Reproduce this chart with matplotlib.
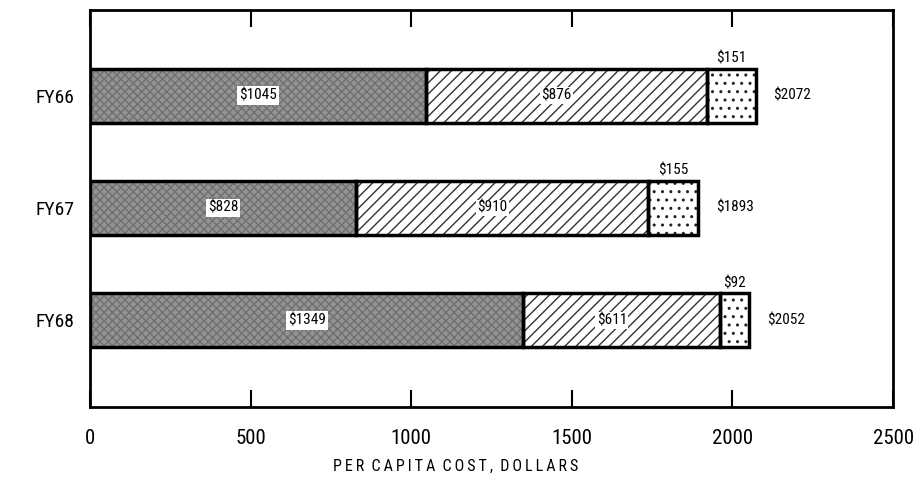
import numpy as np
import matplotlib.pyplot as plt
from matplotlib import font_manager

years = ['FY66', 'FY67', 'FY68']
part_a = [1045, 828, 1349]
part_b = [876, 910, 611]
part_c = [151, 155, 92]
totals = [2072, 1893, 2052]
ticks = [0, 500, 1000, 1500, 2000, 2500]

names = {f.name for f in font_manager.fontManager.ttflist}
narrow = [n for n in ['Liberation Sans Narrow', 'DejaVu Sans Condensed', 'Roboto Condensed'] if n in names]
plt.rcParams['font.family'] = narrow + ['DejaVu Sans']
plt.rcParams['font.stretch'] = 'condensed'
plt.rcParams['hatch.linewidth'] = 1.0

fig = plt.figure(figsize=(9.21, 4.80), dpi=100)
ax = fig.add_axes([0.0977, 0.152, 0.872, 0.827])

y = np.array([2, 1, 0])
h = 0.48
a = np.array(part_a)
b = np.array(part_b)
c = np.array(part_c)

# stippled dark part
ax.barh(y, a, height=h, color='#939393', edgecolor='#707070', hatch='xxxx', linewidth=0)
ax.barh(y, b, left=a, height=h, color='white', edgecolor='#333333', hatch='///', linewidth=0)
ax.barh(y, c, left=a + b, height=h, color='white', edgecolor='#222222', hatch='..', linewidth=0)

# outlines
for left, w in [(0, a), (a, b), (a + b, c)]:
    ax.barh(y, w, left=left, height=h, fill=False, edgecolor='black', linewidth=2.5)

for i in range(3):
    ax.text(a[i] / 2, y[i], '$%d' % a[i], ha='center', va='center', fontsize=11,
            bbox=dict(facecolor='white', edgecolor='none', pad=1.5))
    ax.text(a[i] + b[i] / 2 - 30, y[i], '$%d' % b[i], ha='center', va='center', fontsize=11,
            bbox=dict(facecolor='white', edgecolor='none', pad=1))
    ax.text(a[i] + b[i] + c[i] / 2, y[i] + h / 2 + 0.03, '$%d' % c[i], ha='center', va='bottom',
            fontsize=11)
    ax.text(totals[i] + 55, y[i], '$%d' % totals[i], ha='left', va='center', fontsize=11)

ax.set_xlim(0, 2500)
ax.set_ylim(-0.77, 2.76)
ax.set_xticks(ticks)
ax.set_xticklabels([str(t) for t in ticks], fontsize=15)
ax.set_yticks(y)
ax.set_yticklabels(years, fontsize=14)
ax.tick_params(axis='x', direction='in', length=12, width=1.5, top=True, pad=16)
ax.tick_params(axis='y', length=0, pad=11)
for s in ax.spines.values():
    s.set_linewidth(2)
ax.set_xlabel('\u2009'.join('PER CAPITA COST, DOLLARS').replace('\u2009 \u2009', '  '),
              fontsize=11.5)
ax.xaxis.set_label_coords(0.455, -0.13)

fig.savefig('out.png', dpi=100)
